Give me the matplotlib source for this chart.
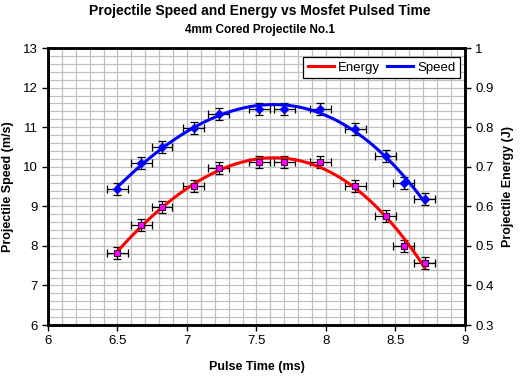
import numpy as np
import matplotlib
matplotlib.use("Agg")
import matplotlib.pyplot as plt
from matplotlib.ticker import MultipleLocator

plt.rcParams['font.family'] = ['Liberation Sans', 'DejaVu Sans']

pulse_ms = [6.50, 6.67, 6.82, 7.05, 7.23, 7.52, 7.70, 7.96, 8.21, 8.43, 8.56, 8.71]
speed_ms = [9.43, 10.10, 10.50, 10.97, 11.33, 11.47, 11.47, 11.47, 10.95, 10.28, 9.60, 9.18]
energy_j = [0.483, 0.553, 0.599, 0.652, 0.697, 0.713, 0.713, 0.712, 0.651, 0.576, 0.500, 0.456]
x_err = 0.075
speed_err = 0.15
energy_err = 0.015

fig = plt.figure(figsize=(5.2, 3.78), dpi=100)
ax2 = fig.add_axes([0.0923, 0.140, 0.8017, 0.733])   # bottom axes: energy + grid
ax2.yaxis.tick_right()
ax2.yaxis.set_label_position('right')
ax = fig.add_axes([0.0923, 0.140, 0.8017, 0.733], sharex=ax2)  # top axes: speed
ax.patch.set_visible(False)

ax.set_xlim(6, 9)
ax.set_ylim(6, 13)
ax2.set_ylim(0.3, 1.0)

ax2.xaxis.set_major_locator(MultipleLocator(0.5))
ax2.xaxis.set_minor_locator(MultipleLocator(0.1))
ax2.yaxis.set_major_locator(MultipleLocator(0.1))
ax2.yaxis.set_minor_locator(MultipleLocator(0.02))
ax2.grid(True, which='both', color='#c0c0c0', linewidth=0.9)
ax2.set_axisbelow(True)

ax.set_xticks(np.arange(6, 9.01, 0.5))
ax.set_xticklabels(['6', '6.5', '7', '7.5', '8', '8.5', '9'])
ax.set_yticks(np.arange(6, 13.01, 1))
ax.set_yticklabels([str(v) for v in range(6, 14)])
ax2.set_yticks(np.arange(0.3, 1.001, 0.1))
ax2.set_yticklabels(['0.3', '0.4', '0.5', '0.6', '0.7', '0.8', '0.9', '1'])
ax2.tick_params(axis='x', labelbottom=False, length=0)

for a in (ax, ax2):
    for s in a.spines.values():
        s.set_linewidth(1.8)
        s.set_color('black')
    a.tick_params(which='major', direction='out', length=4, width=1, labelsize=9.5, colors='black')
    a.tick_params(which='minor', length=0)
ax2.tick_params(axis='x', which='both', length=0, labelbottom=False)

# trendlines (polynomial fit)
xs = np.linspace(pulse_ms[0], pulse_ms[-1], 200)
ps = np.polyfit(pulse_ms, speed_ms, 3)
pe = np.polyfit(pulse_ms, energy_j, 3)

ax2.errorbar(pulse_ms, energy_j, xerr=x_err, yerr=energy_err, fmt='none',
             ecolor='black', elinewidth=0.9, capsize=3, capthick=0.9, zorder=3)
le, = ax2.plot(xs, np.polyval(pe, xs), color='#ff0000', lw=2.2, zorder=4, label='Energy')
ax2.plot(pulse_ms, energy_j, 's', ms=4.5, mfc='#ff00ff', mec='#400040', mew=0.8, zorder=5)

ax.errorbar(pulse_ms, speed_ms, xerr=x_err, yerr=speed_err, fmt='none',
            ecolor='black', elinewidth=0.9, capsize=3, capthick=0.9, zorder=3)
ls, = ax.plot(xs, np.polyval(ps, xs), color='#0000ff', lw=2.2, zorder=4, label='Speed')
ax.plot(pulse_ms, speed_ms, 'D', ms=4.2, mfc='#0000ff', mec='#0000ff', zorder=5)

leg = ax.legend(handles=[le, ls], loc='upper right', bbox_to_anchor=(0.988, 0.9675), ncol=2,
                fontsize=9.5, frameon=True, fancybox=False, edgecolor='black', framealpha=1,
                handlelength=2.0, columnspacing=0.5, handletextpad=0.3, borderpad=0.35,
                borderaxespad=0)
leg.get_frame().set_linewidth(0.9)
leg.set_zorder(10)

ax.set_xlabel('Pulse Time (ms)', fontsize=9, fontweight='bold', labelpad=10)
ax.set_ylabel('Projectile Speed (m/s)', fontsize=9, fontweight='bold', labelpad=6)
ax2.set_ylabel('Projectile Energy (J)', fontsize=9, fontweight='bold', labelpad=6)

fig.text(0.5, 0.972, 'Projectile Speed and Energy vs Mosfet Pulsed Time', ha='center', va='center',
         fontsize=10, fontweight='bold')
fig.text(0.5, 0.921, '4mm Cored Projectile No.1', ha='center', va='center',
         fontsize=8.5, fontweight='bold')

fig.savefig('out.png', dpi=100)
